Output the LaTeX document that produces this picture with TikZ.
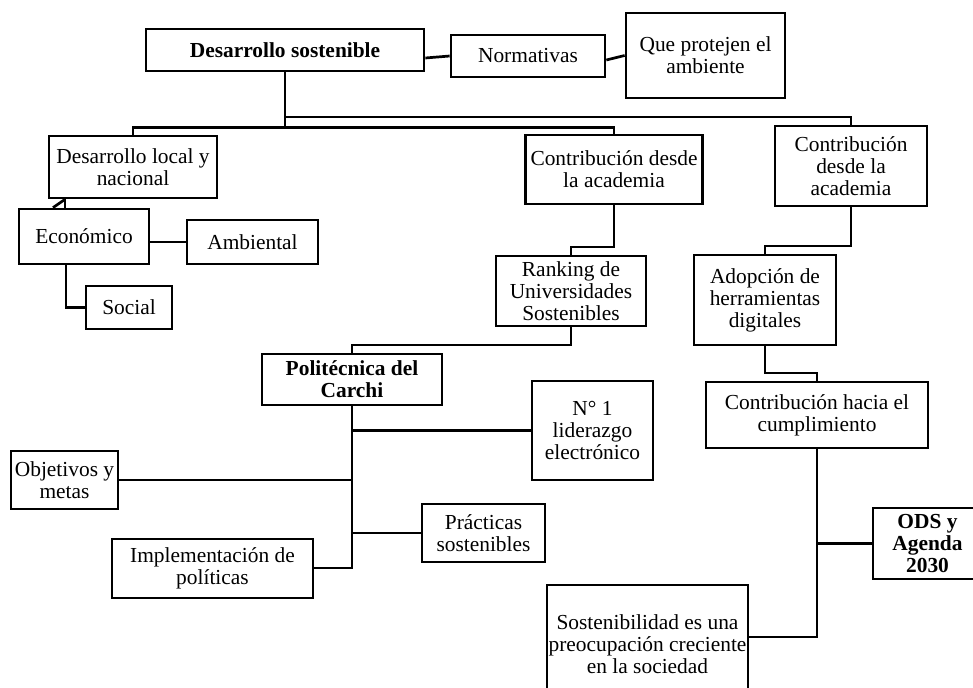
\documentclass[tikz,border=0pt]{standalone}
\usepackage{fontspec}
\setmainfont{Liberation Serif}
\usetikzlibrary{calc}
\begin{document}
\begin{tikzpicture}[x=1pt,y=-1pt,
  box/.style={draw,line width=2.7pt,inner sep=0pt,align=center,font=\fontsize{21.4}{22}\selectfont},
  bbox/.style={box,font=\fontsize{21.4}{22}\selectfont\bfseries},
  conn/.style={line width=2.7pt,line join=miter}]
\useasboundingbox[fill=white] (0,0) rectangle (973,687);
% nodes
\node[bbox,minimum width=278,minimum height=42] (ds) at (285,50) {Desarrollo sostenible};
\node[box,minimum width=154,minimum height=42] (norm) at (528,56) {Normativas};
\node[box,minimum width=159,minimum height=85] (que) at (705.5,55.5) {Que protejen el\\ambiente};
\node[box,minimum width=168,minimum height=62] (dl) at (133,167) {Desarrollo local y\\nacional};
\node[box,minimum width=130,minimum height=55] (eco) at (84,236.5) {Económico};
\node[box,minimum width=131,minimum height=44] (amb) at (252.5,242) {Ambiental};
\node[box,minimum width=86,minimum height=43] (soc) at (129,307.5) {Social};
\node[box,minimum width=177,minimum height=69] (cda) at (614,169.5) {Contribución desde\\la academia};
\node[box,minimum width=152,minimum height=80] (cdb) at (851,166) {Contribución\\desde la\\academia};
\node[box,minimum width=150,minimum height=70] (rank) at (571,291) {Ranking de\\Universidades\\Sostenibles};
\node[box,minimum width=142,minimum height=90] (adop) at (765,300) {Adopción de\\herramientas\\digitales};
\node[bbox,minimum width=180,minimum height=51] (pol) at (352,379.5) {Politécnica del\\Carchi};
\node[box,minimum width=121,minimum height=99] (n1) at (592.5,430.5) {N° 1\\liderazgo\\electrónico};
\node[box,minimum width=222,minimum height=66] (chc) at (817,415) {Contribución hacia el\\cumplimiento};
\node[box,minimum width=107,minimum height=58] (obj) at (64.5,480) {Objetivos y\\metas};
\node[box,minimum width=123,minimum height=58] (prac) at (483.5,533) {Prácticas\\sostenibles};
\node[box,minimum width=201,minimum height=59] (impl) at (212.5,568.5) {Implementación de\\políticas};
\node[bbox,minimum width=109,minimum height=71] (ods) at (927.5,543.5) {ODS y\\Agenda\\2030};
\node[box,minimum width=201,minimum height=118] (sost) at (647.5,644) {Sostenibilidad es una\\preocupación creciente\\en la sociedad};
% connectors
\draw[conn] ($(ds.east)+(0,8)$) -- (norm.west);
\draw[conn] ($(norm.east)+(0,4)$) -- (que.west);
\coordinate (hub) at (285,127.5);
\draw[conn] (ds.south) -- (hub);
\draw[conn] (ds.south) -- (285,117) -| (cdb.north);
\draw[conn] (dl.north) |- (hub) -| (cda.north);
\draw[conn] (dl.south -| 65,0) -- (eco.north -| 65,0);
\draw[conn] (eco.north -| 53,0) -- (dl.south -| 65,0);
\draw[conn] (eco.east |- amb.west) -- (amb.west);
\draw[conn] (eco.south -| 66,0) |- (soc.west);
\draw[conn] (cda.south) -- (614,247) -| (rank.north);
\draw[conn] (cdb.south) -- (851,246) -| (adop.north);
\draw[conn] (rank.south) -- (571,345) -| (pol.north);
\draw[conn] (adop.south) -- (765,373) -| (chc.north);
\coordinate (pend) at (352,568);
\draw[conn] (pol.south) -- (pend) -- (impl.east |- pend);
\draw[conn] (pol.south |- n1.west) -- (n1.west);
\draw[conn] (pol.south |- obj.east) -- (obj.east);
\draw[conn] (pol.south |- prac.west) -- (prac.west);
\coordinate (cend) at (817,637);
\draw[conn] (chc.south) -- (cend) -- (sost.east |- cend);
\draw[conn] (chc.south |- ods.west) -- (ods.west);
\end{tikzpicture}
\end{document}
